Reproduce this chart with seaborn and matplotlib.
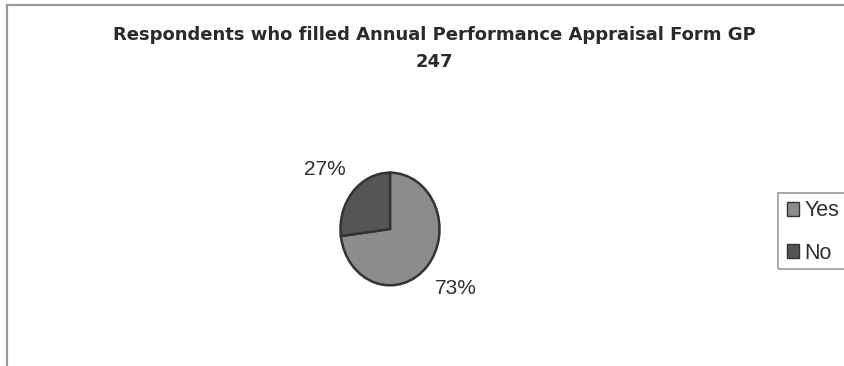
import matplotlib
matplotlib.use("Agg")
import matplotlib.pyplot as plt
import seaborn as sns
from matplotlib.patches import Rectangle, Patch

sns.set_theme(style="white")
plt.rcParams["font.family"] = ["Liberation Sans", "DejaVu Sans"]

# Survey answers
categories = ["Yes", "No"]
shares = [73, 27]
title_lines = ["Respondents who filled Annual Performance Appraisal Form GP", "247"]

slice_colors = ["#8c8c8c", "#555555"]
edge_color = "#333333"
text_color = "#2e2e2e"

W, H = 845, 366
fig = plt.figure(figsize=(W / 100, H / 100), dpi=100, facecolor="white")

# Chart area border (runs off the right and bottom edges)
fig.patches.append(Rectangle((7 / W, -0.05), 1.2, 1 - 5 / H + 0.05,
                             transform=fig.transFigure, fill=False,
                             edgecolor="#9a9a9a", linewidth=1.6))

# Two-line title
for line, ypix in zip(title_lines, [35, 62]):
    fig.text(434 / W, 1 - ypix / H, line, ha="center", va="center",
             fontsize=13, fontweight="bold", color="#2a2a2a",
             family=["DejaVu Sans"])

# Pie axes (slightly taller than wide)
cx, cy, rx, ry = 390, 229, 51, 58
ax = fig.add_axes([(cx - rx) / W, 1 - (cy + ry) / H, 2 * rx / W, 2 * ry / H])
wedges, _, autotexts = ax.pie(
    shares, colors=slice_colors, startangle=90, counterclock=False,
    autopct="%d%%", pctdistance=1.6,
    wedgeprops=dict(edgecolor=edge_color, linewidth=1.8),
    textprops=dict(fontsize=15, color=text_color))
ax.set_aspect("auto")
ax.set_xlim(-1.03, 1.03)
ax.set_ylim(-1.03, 1.03)
for t in autotexts:
    x, y = t.get_position()
    t.set_position((x * 1.1, y))
    t.set_clip_on(False)

# Legend box at the right edge (frame runs past the figure edge)
fig.patches.append(Rectangle((778 / W, 1 - 269 / H), 0.2, 76 / H,
                             transform=fig.transFigure, fill=False,
                             edgecolor="#9a9a9a", linewidth=1.2))
handles = [Patch(facecolor=c, edgecolor=edge_color, linewidth=1.0) for c in slice_colors]
leg = fig.legend(handles, categories, loc="upper left",
                 bbox_to_anchor=(783 / W, 1 - 196 / H),
                 fontsize=15.5, frameon=False,
                 handlelength=0.55, handleheight=0.6, handletextpad=0.25,
                 labelspacing=1.0, borderpad=0.2, borderaxespad=0)
for t in leg.get_texts():
    t.set_color(text_color)

fig.savefig("out.png", dpi=100, facecolor="white")
